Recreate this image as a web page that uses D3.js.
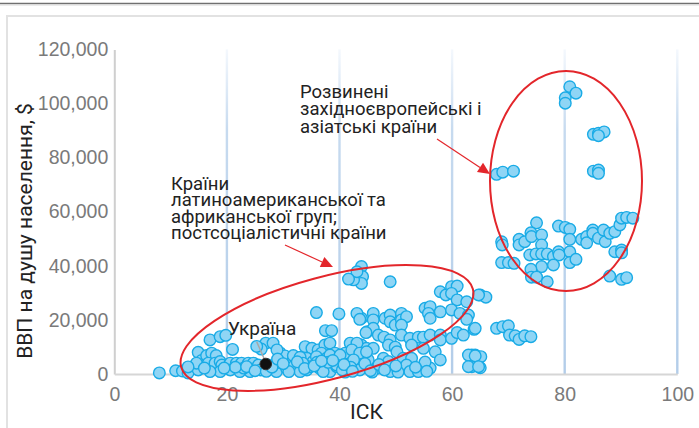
<!DOCTYPE html>
<html><head><meta charset="utf-8">
<script src="https://cdn.jsdelivr.net/npm/d3@7"></script>
<style>
body{margin:0;background:#fff;}
svg{display:block;font-family:Roboto,"Noto Sans",sans-serif;}
</style>
</head><body>
<svg id="c" width="699" height="428"></svg>
<script>
// ---- data ----
const iskValues = [
80.9,82.0,80.1,80.1,85.1,86.0,87.0,86.0,67.9,69.0,70.9,85.1,86.0,86.0,
75.0,78.9,80.1,80.9,68.8,68.9,71.9,71.9,72.9,74.0,74.1,75.9,75.9,80.9,80.9,83.0,83.9,83.9,85.0,85.0,86.0,86.9,87.2,88.0,88.9,89.8,90.1,91.0,92.1,88.9,90.1,90.1,
73.8,74.9,75.9,76.9,78.0,78.9,79.0,78.0,75.9,74.0,74.1,75.0,76.9,80.9,82.0,68.8,70.0,71.0,88.0,90.1,91.0,
65.0,66.0,63.9,67.9,69.0,70.0,70.2,71.2,71.9,72.9,74.0,63.5,64.1,65.1,63.5,65.0,
43.9,44.1,43.9,42.5,43.1,41.6,49.0,57.9,58.9,59.9,60.9,59.9,60.9,62.6,64.7,55.2,56.1,55.8,56.1,57.9,59.9,61.4,62.9,62.6,64.1,
43.9,46.0,46.0,48.1,49.0,49.0,49.9,51.0,51.0,51.9,51.0,44.9,46.0,46.9,47.9,49.0,51.0,52.5,54.0,54.9,56.1,57.9,57.9,59.9,60.9,62.0,
43.9,44.8,46.0,48.7,49.9,52.8,54.9,57.0,50.2,43.9,45.1,47.8,48.7,51.3,52.8,51.9,52.5,54.0,43.9,46.6,49.0,62.9,64.1,62.9,64.7,41.0,45.8,50.4,56.1,57.9,55.2,
35.9,39.9,43.1,43.6,37.5,38.6,44.7,26.9,28.2,29.4,30.3,31.8,33.9,35.1,36.2,37.4,38.3,36.8,39.2,41.0,41.9,43.1,42.2,43.6,44.8,
34.2,35.3,37.7,40.1,41.3,42.5,32.4,34.2,36.5,38.3,39.5,43.6,28.8,30.6,27.4,26.1,28.9,31.8,33.0,35.9,38.3,40.1,31.8,34.8,37.1,39.5,33.0,37.1,
8.0,10.9,12.1,13.1,14.9,15.5,16.4,17.3,18.1,16.7,17.9,18.8,19.1,17.0,18.8,19.8,21.0,18.8,17.0,14.9,20.6,21.7,22.6,23.8,24.7,20.6,22.3,24.1,25.6,14.6,13.1,25.3,
23.0,26.0,29.5,31.0,33.5,36.0,38.0,40.5,42.0,
21.5,23.5,25.0,27.0,28.0,29.0,30.0,32.5,33.8,35.5,36.8,38.8,40.8,42.3,44.5,45.5,47.0,48.0,50.0,53.5,55.5,19.5,16.0
];
const gdpValues = [
106200,103800,102100,100100,88600,89000,89500,88100,73800,74600,75000,75000,75400,74200,
55900,54700,54200,53500,48900,47700,49800,47700,48900,52200,50800,51400,47700,49800,45200,49800,50800,48500,53200,52000,50200,53200,48900,52000,52600,55100,57600,57900,57600,45200,45800,44800,
44000,44400,44400,44400,43400,45200,44000,40300,39700,38700,35800,35800,34100,41200,42400,41200,41200,40900,36200,35000,35600,
29200,28400,16500,16900,17500,17800,14400,14100,12800,14100,13800,7000,7000,6400,2700,2300,
39700,36000,33500,34800,37800,35100,34100,30400,29200,32300,32500,29800,27400,26700,29200,24300,24900,22400,20600,23000,23700,22400,21800,20200,16900,
20600,22400,20000,20600,21800,19300,18100,22400,20000,21200,18100,15600,16900,14400,13600,12600,14400,13200,13600,13600,14400,14400,12600,13200,15300,14400,
10700,9500,9500,10700,9900,10700,9500,8200,8200,5800,5200,5800,4600,5800,5800,3300,900,900,2100,2100,900,7000,6700,2700,2700,700,700,700,2200,5200,4400,
22700,22200,22400,20200,16000,16000,15300,11400,11400,7900,6700,5400,10100,9500,8900,10700,11400,7700,7700,7700,11400,11400,8900,7700,8200,
5800,4600,5800,4600,3300,5200,2700,1500,2100,900,2700,1500,900,2100,3300,9200,8900,6800,6200,6400,7000,7000,2700,2700,3300,3300,900,900,
400,1200,1100,400,8000,5000,6800,7700,6800,4000,4000,4600,3300,12600,13800,14300,9100,900,900,1500,4000,4000,4000,4000,4000,1500,900,900,3300,4000,2600,10200,
2200,1500,4200,900,4000,4300,4300,1500,2500,
2500,2700,1200,1000,2500,5500,3800,4500,2000,3000,4800,5000,3500,1000,3800,1200,3500,1500,3000,2500,1000,2200,2200
];
const xTicks = [0, 20, 40, 60, 80, 100];
const yTicks = [0, 20000, 40000, 60000, 80000, 100000, 120000];
const gridTicks = [20, 40, 60, 80, 100];
const ukraine = {isk: 26.9, gdp: 3700, label: "Україна"};
const developedLines = ["Розвинені", "західноєвропейські і", "азіатські країни"];
const otherLines = ["Країни", "латиноамериканської та", "африканської груп;", "постсоціалістичні країни"];
const xTitle = "ІСК";
const yTitle = "ВВП на душу населення, $";

// ---- chart ----
const svg = d3.select("#c");
const W = 699, H = 428;
const plot = {left: 114.3, right: 677.3, top: 49.4, bottom: 374};
const x = d3.scaleLinear().domain([0, 100]).range([plot.left, plot.right]);
const y = d3.scaleLinear().domain([0, 120000]).range([plot.bottom, plot.top]);

// frame
svg.append("line").attr("x1", 0).attr("x2", W).attr("y1", 3.5).attr("y2", 3.5)
  .attr("stroke", "#707070").attr("stroke-width", 1.5);
svg.append("line").attr("x1", 0).attr("x2", W).attr("y1", 5).attr("y2", 5)
  .attr("stroke", "#d8d8d8").attr("stroke-width", 1);
svg.append("rect").attr("x", 7).attr("y", 16).attr("width", 900).attr("height", 600)
  .attr("fill", "none").attr("stroke", "#e2e2e2").attr("stroke-width", 2);

const defs = svg.append("defs");
const g = defs.append("linearGradient").attr("id", "gg").attr("x1", 0).attr("x2", 0).attr("y1", 0).attr("y2", 1);
g.append("stop").attr("offset", "0%").attr("stop-color", "#f4f8fd");
g.append("stop").attr("offset", "25%").attr("stop-color", "#c6daef");
g.append("stop").attr("offset", "100%").attr("stop-color", "#b3cde9");

svg.append("g").selectAll("rect").data(gridTicks).join("rect")
  .attr("x", d => x(d) - 1.2).attr("y", plot.top).attr("width", 2.4)
  .attr("height", plot.bottom - plot.top).attr("fill", "url(#gg)");

// axes
const yAxis = svg.append("g").attr("transform", `translate(${plot.left},0)`)
  .call(d3.axisLeft(y).tickValues(yTicks).tickSize(0).tickPadding(6).tickFormat(d3.format(",")));
yAxis.select(".domain").attr("stroke", "#cfcfcf").attr("stroke-width", 2);
yAxis.selectAll("text").attr("fill", "#7a7a7a").style("font-size", "19.5px");

const xAxis = svg.append("g").attr("transform", `translate(0,${plot.bottom})`)
  .call(d3.axisBottom(x).tickValues(xTicks).tickSize(0).tickPadding(13));
xAxis.select(".domain").attr("stroke", "#d6d6d6").attr("stroke-width", 2);
xAxis.selectAll("text").attr("fill", "#7a7a7a").style("font-size", "19.5px");

// titles
svg.append("text").attr("transform", "translate(32,231) rotate(-90)")
  .attr("text-anchor", "middle").attr("fill", "#222").style("font-size", "21px").text(yTitle);
svg.append("text").attr("x", 350).attr("y", 419).attr("fill", "#222").style("font-size", "21px").text(xTitle);

// points
const pts = iskValues.map((v, i) => ({isk: v, gdp: gdpValues[i]}));
svg.append("g").selectAll("circle").data(pts).join("circle")
  .attr("cx", d => x(d.isk)).attr("cy", d => y(d.gdp)).attr("r", 5.8)
  .attr("fill", "#8fd5f5").attr("stroke", "#19abe6").attr("stroke-width", 1.4);

// ellipses
const red = "#e3262b";
svg.append("ellipse").attr("cx", 327).attr("cy", 328).attr("rx", 151).attr("ry", 51)
  .attr("transform", "rotate(-15 327 328)")
  .attr("fill", "none").attr("stroke", red).attr("stroke-width", 2);
svg.append("ellipse").attr("cx", 566).attr("cy", 181).attr("rx", 76).attr("ry", 110)
  .attr("fill", "none").attr("stroke", red).attr("stroke-width", 2);

function arrow(x1, y1, x2, y2) {
  const a = Math.atan2(y2 - y1, x2 - x1), L = 12, hw = 5.5;
  const bx = x2 - L * Math.cos(a), by = y2 - L * Math.sin(a);
  svg.append("line").attr("x1", x1).attr("y1", y1).attr("x2", bx).attr("y2", by)
    .attr("stroke", red).attr("stroke-width", 1.2);
  svg.append("polygon").attr("fill", red).attr("points", [
    [x2, y2],
    [bx + hw * Math.sin(a), by - hw * Math.cos(a)],
    [bx - hw * Math.sin(a), by + hw * Math.cos(a)]
  ].map(p => p.join(",")).join(" "));
}
arrow(437, 139, 490, 174);
arrow(285, 245, 333, 267);

// annotations
developedLines.forEach((s, i) => svg.append("text").attr("fill", "#222").style("font-size", "18.5px")
  .attr("x", 300).attr("y", 98 + i * 17.3).text(s));
otherLines.forEach((s, i) => svg.append("text").attr("fill", "#222").style("font-size", "18.5px")
  .attr("x", 171).attr("y", 189.5 + i * 16.6).text(s));

// Ukraine
svg.append("line").attr("x1", 256.7).attr("y1", 341.7).attr("x2", x(ukraine.isk) - 1).attr("y2", y(ukraine.gdp) - 4)
  .attr("stroke", "#a8a8a8").attr("stroke-width", 1.5);
svg.append("circle").attr("cx", x(ukraine.isk)).attr("cy", y(ukraine.gdp)).attr("r", 5.8)
  .attr("fill", "#111").attr("stroke", "#333").attr("stroke-width", 1);
svg.append("text").attr("x", 228).attr("y", 335).attr("fill", "#222").style("font-size", "19px").text(ukraine.label);
</script>
</body></html>
